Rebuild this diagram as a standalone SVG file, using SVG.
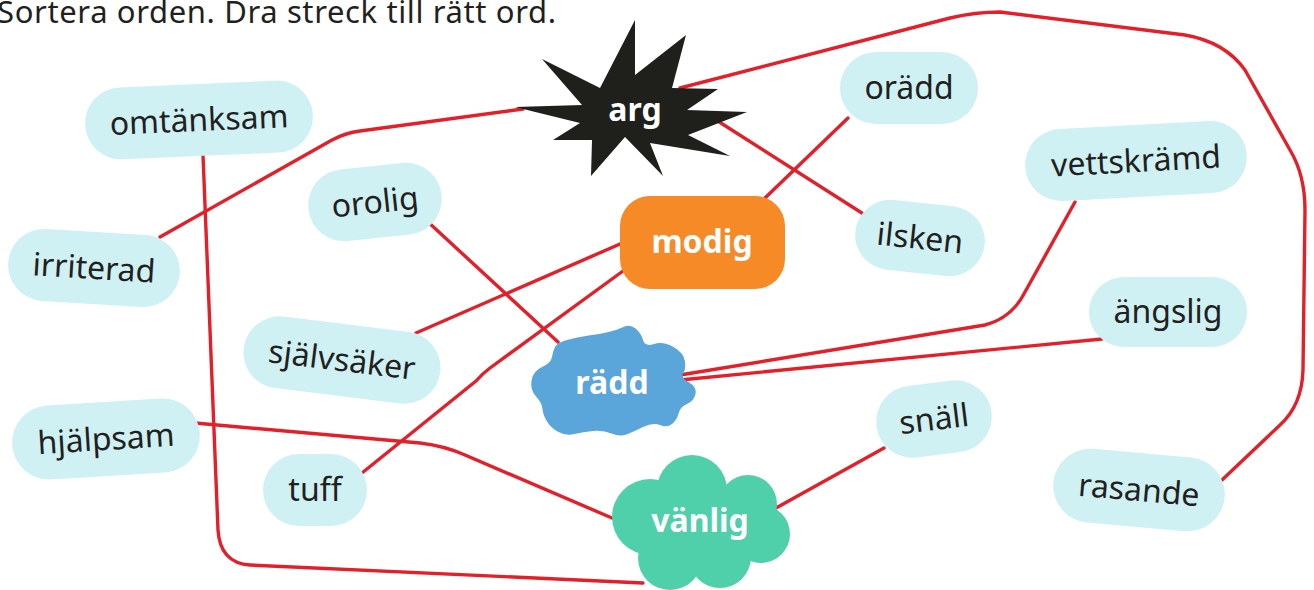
<svg xmlns="http://www.w3.org/2000/svg" width="1314" height="590" viewBox="0 0 1314 590">
<style>
.c{fill:none;stroke:#E3202A;stroke-width:3.4;stroke-linecap:round;stroke-linejoin:round}
.pill{fill:#CFF1F3}
.t{font-family:"Noto Sans","Open Sans",sans-serif;font-size:32px;fill:#231F20;text-anchor:middle}
.b{font-family:"Noto Sans","Open Sans",sans-serif;font-size:32px;font-weight:bold;fill:#FFFFFF;text-anchor:middle}
.title{font-family:"Noto Sans","Open Sans",sans-serif;font-size:31px;fill:#231F20}
</style>
<rect width="1314" height="590" fill="#FFFFFF"/>
<text class="title" x="-3" y="23" textLength="559">Sortera orden. Dra streck till rätt ord.</text>

<g id="connectors">
<path class="c" d="M523,109 L360,131 Q345,133 332,140 L160,237"/>
<path class="c" d="M680,88 L950,18 Q975,12 1000,12 L1185,35 Q1225,42 1245,70 L1290,150 Q1305,175 1305,210 L1303,370 Q1302,405 1280,425 L1222,480"/>
<path class="c" d="M713,118 L865,215"/>
<path class="c" d="M765,198 L848,118"/>
<path class="c" d="M620,244 L416,333"/>
<path class="c" d="M623,271 L490,368 Q482,374 476,381 L357,477"/>
<path class="c" d="M427,221 L558,342"/>
<path class="c" d="M1075,202 L1025,292 Q1012,318 985,325 L680,375"/>
<path class="c" d="M1102,339 L680,380"/>
<path class="c" d="M195,423 L420,443 Q445,446 465,455 L612,518"/>
<path class="c" d="M203,155 L218,530 Q220,563 250,565 L643,583"/>
<path class="c" d="M884,448 L776,508"/>
</g>

<g id="arg">
<polygon fill="#1F1F1C" points="635,20 635,75 686,35 672,88 718,89 687,110 747,112 688,135 730,156 650,143 663,176 625,137 591,176 592,140 553,140 580,123 515,107 582,105 542,59 600,88"/>
<text class="b" x="635" y="121">arg</text>
</g>

<g id="modig">
<rect x="620" y="196" width="165" height="93" rx="30" fill="#F58A27"/>
<text class="b" x="702" y="253">modig</text>
</g>

<g id="radd">
<path fill="#5AA5D9" d="M555,347 Q557,343 567,340 Q577,337 588.5,335.5 Q600,334 608.5,332 Q617,330 623.5,327 Q630,324 635.5,328.5 Q641,333 643,340 Q645,347 654,344 Q663,341 673.5,347 Q684,353 685,361.5 Q686,370 683,373.5 Q680,377 688.5,382 Q697,387 695.5,394 Q694,401 687,404 Q680,407 678.5,413.5 Q677,420 672,424 Q667,428 660,425 Q653,422 643,427 Q633,432 626.5,434.5 Q620,437 611.5,433.5 Q603,430 593,431 Q583,432 574.5,434 Q566,436 558.5,432 Q551,428 547,421.5 Q543,415 542.5,409 Q542,403 536,396.5 Q530,390 531.5,380.5 Q533,371 542,367 Q551,363 552,357 Q553,351 555,347 Z"/>
<text class="b" x="612" y="394">rädd</text>
</g>

<g id="vanlig" fill="#50CFAB">
<circle cx="692" cy="490" r="35"/>
<circle cx="748" cy="504" r="29"/>
<circle cx="761" cy="534" r="29"/>
<circle cx="720" cy="557" r="31"/>
<circle cx="670" cy="558" r="32"/>
<circle cx="650" cy="517" r="38"/>
<ellipse cx="705" cy="525" rx="55" ry="40"/>
<text class="b" x="700" y="532">vänlig</text>
</g>

<g id="omtanksam" transform="translate(199,120) rotate(-2.5)"><rect class="pill" x="-114" y="-36" width="228" height="72" rx="36"/><text class="t" y="11">omtänksam</text></g>
<g id="irriterad" transform="translate(94,268) rotate(3.5)"><rect class="pill" x="-86" y="-36" width="172" height="72" rx="36"/><text class="t" y="11">irriterad</text></g>
<g id="orolig" transform="translate(375,202) rotate(-6)"><rect class="pill" x="-67" y="-36" width="134" height="72" rx="36"/><text class="t" y="11">orolig</text></g>
<g id="sjalvsaker" transform="translate(342,360) rotate(7)"><rect class="pill" x="-99" y="-36" width="198" height="72" rx="36"/><text class="t" y="11">självsäker</text></g>
<g id="hjalpsam" transform="translate(106,439) rotate(-3.5)"><rect class="pill" x="-94" y="-37" width="188" height="74" rx="37"/><text class="t" y="11">hjälpsam</text></g>
<g id="tuff" transform="translate(315,490)"><rect class="pill" x="-52" y="-36" width="104" height="72" rx="36"/><text class="t" y="11">tuff</text></g>
<g id="oradd" transform="translate(909,88)"><rect class="pill" x="-69" y="-36" width="138" height="72" rx="36"/><text class="t" y="11">orädd</text></g>
<g id="ilsken" transform="translate(920,238) rotate(6)"><rect class="pill" x="-65" y="-35" width="130" height="70" rx="35"/><text class="t" y="11">ilsken</text></g>
<g id="vettskramd" transform="translate(1136,161) rotate(-3)"><rect class="pill" x="-111" y="-36" width="222" height="72" rx="36"/><text class="t" y="11">vettskrämd</text></g>
<g id="angslig" transform="translate(1168,312)"><rect class="pill" x="-79" y="-35" width="158" height="70" rx="35"/><text class="t" y="11">ängslig</text></g>
<g id="rasande" transform="translate(1139,490) rotate(5)"><rect class="pill" x="-86" y="-37" width="172" height="74" rx="37"/><text class="t" y="11">rasande</text></g>
<g id="snall" transform="translate(934,419) rotate(-7)"><rect class="pill" x="-58" y="-36" width="116" height="72" rx="36"/><text class="t" y="11">snäll</text></g>
</svg>
